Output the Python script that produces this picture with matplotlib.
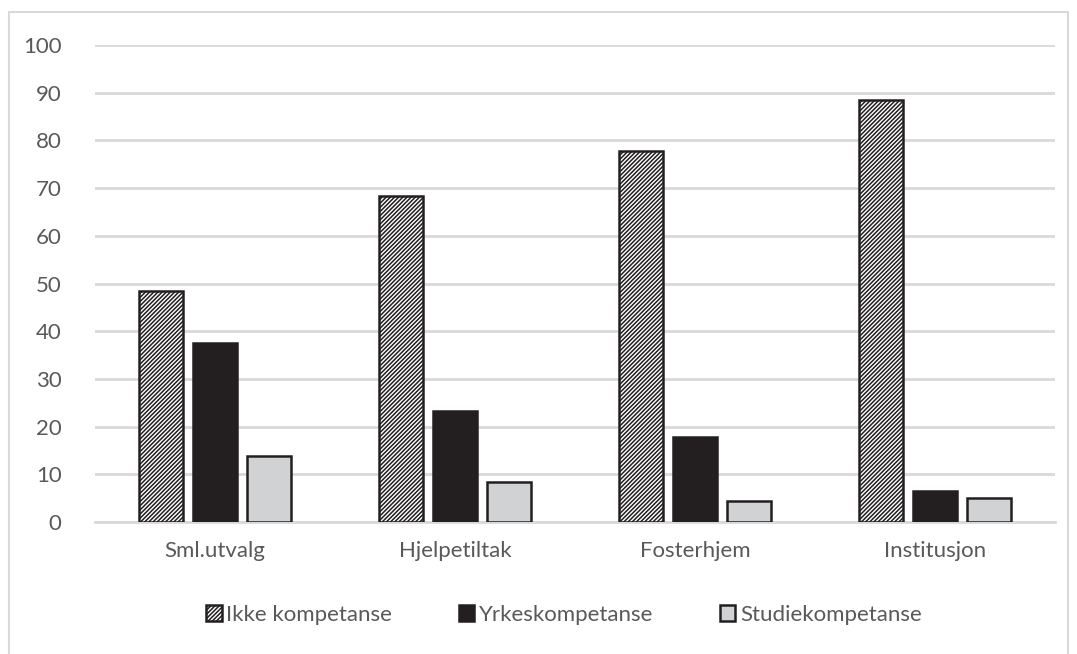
import matplotlib
matplotlib.use("Agg")
import matplotlib.pyplot as plt
import numpy as np
from matplotlib.patches import Rectangle

categories = ["Sml.utvalg", "Hjelpetiltak", "Fosterhjem", "Institusjon"]
series_names = ["Ikke kompetanse", "Yrkeskompetanse", "Studiekompetanse"]
ikke = [48.5, 68.4, 77.8, 88.5]
yrkes = [37.6, 23.3, 17.9, 6.6]
studie = [13.8, 8.4, 4.4, 5.1]
yticks = [0, 10, 20, 30, 40, 50, 60, 70, 80, 90, 100]

plt.rcParams['font.family'] = ['Lato', 'DejaVu Sans']
plt.rcParams['hatch.linewidth'] = 1.1
plt.rcParams['hatch.color'] = '#231f20'

fig = plt.figure(figsize=(10.77, 6.54), dpi=100)
W, H = 1077, 654
ax = fig.add_axes([95 / W, 1 - 522 / H, 960 / W, (522 - 45) / H])

fig.patches.append(Rectangle((9 / W, -10 / H), 1059 / W, 652 / H, transform=fig.transFigure,
                             fill=False, edgecolor='#d9d9d9', linewidth=1.5))

x = np.arange(len(categories))
bw = 44 / 240
off = 54 / 240
ax.bar(x - off, ikke, bw, color='white', edgecolor='#231f20', hatch='/' * 8, linewidth=1.8,
       label=series_names[0], zorder=3)
ax.bar(x, yrkes, bw, color='#231f20', edgecolor='#231f20', linewidth=1.8,
       label=series_names[1], zorder=3)
ax.bar(x + off, studie, bw, color='#d0d2d3', edgecolor='#231f20', linewidth=1.8,
       label=series_names[2], zorder=3)

ax.set_xlim(-0.5, len(categories) - 0.5)
ax.set_ylim(0, 100)
ax.set_yticks(yticks)
ax.set_xticks(x)
ax.set_xticklabels(categories)
ax.yaxis.grid(True, color='#d9d9d9', linewidth=2)
ax.set_axisbelow(True)
for s in ['top', 'right', 'left']:
    ax.spines[s].set_visible(False)
ax.spines['bottom'].set_color('#d9d9d9')
ax.spines['bottom'].set_linewidth(2)
ax.tick_params(axis='both', length=0, labelsize=16, labelcolor='#595959')
ax.tick_params(axis='y', pad=24)
ax.tick_params(axis='x', pad=14)

leg = fig.legend(loc='center', bbox_to_anchor=(564 / W, 1 - 615 / H), ncol=3, frameon=False,
                 fontsize=16, handlelength=0.7, handleheight=0.7, handletextpad=0.2,
                 columnspacing=3.0, labelcolor='#595959')

fig.savefig("out.png", dpi=100)
